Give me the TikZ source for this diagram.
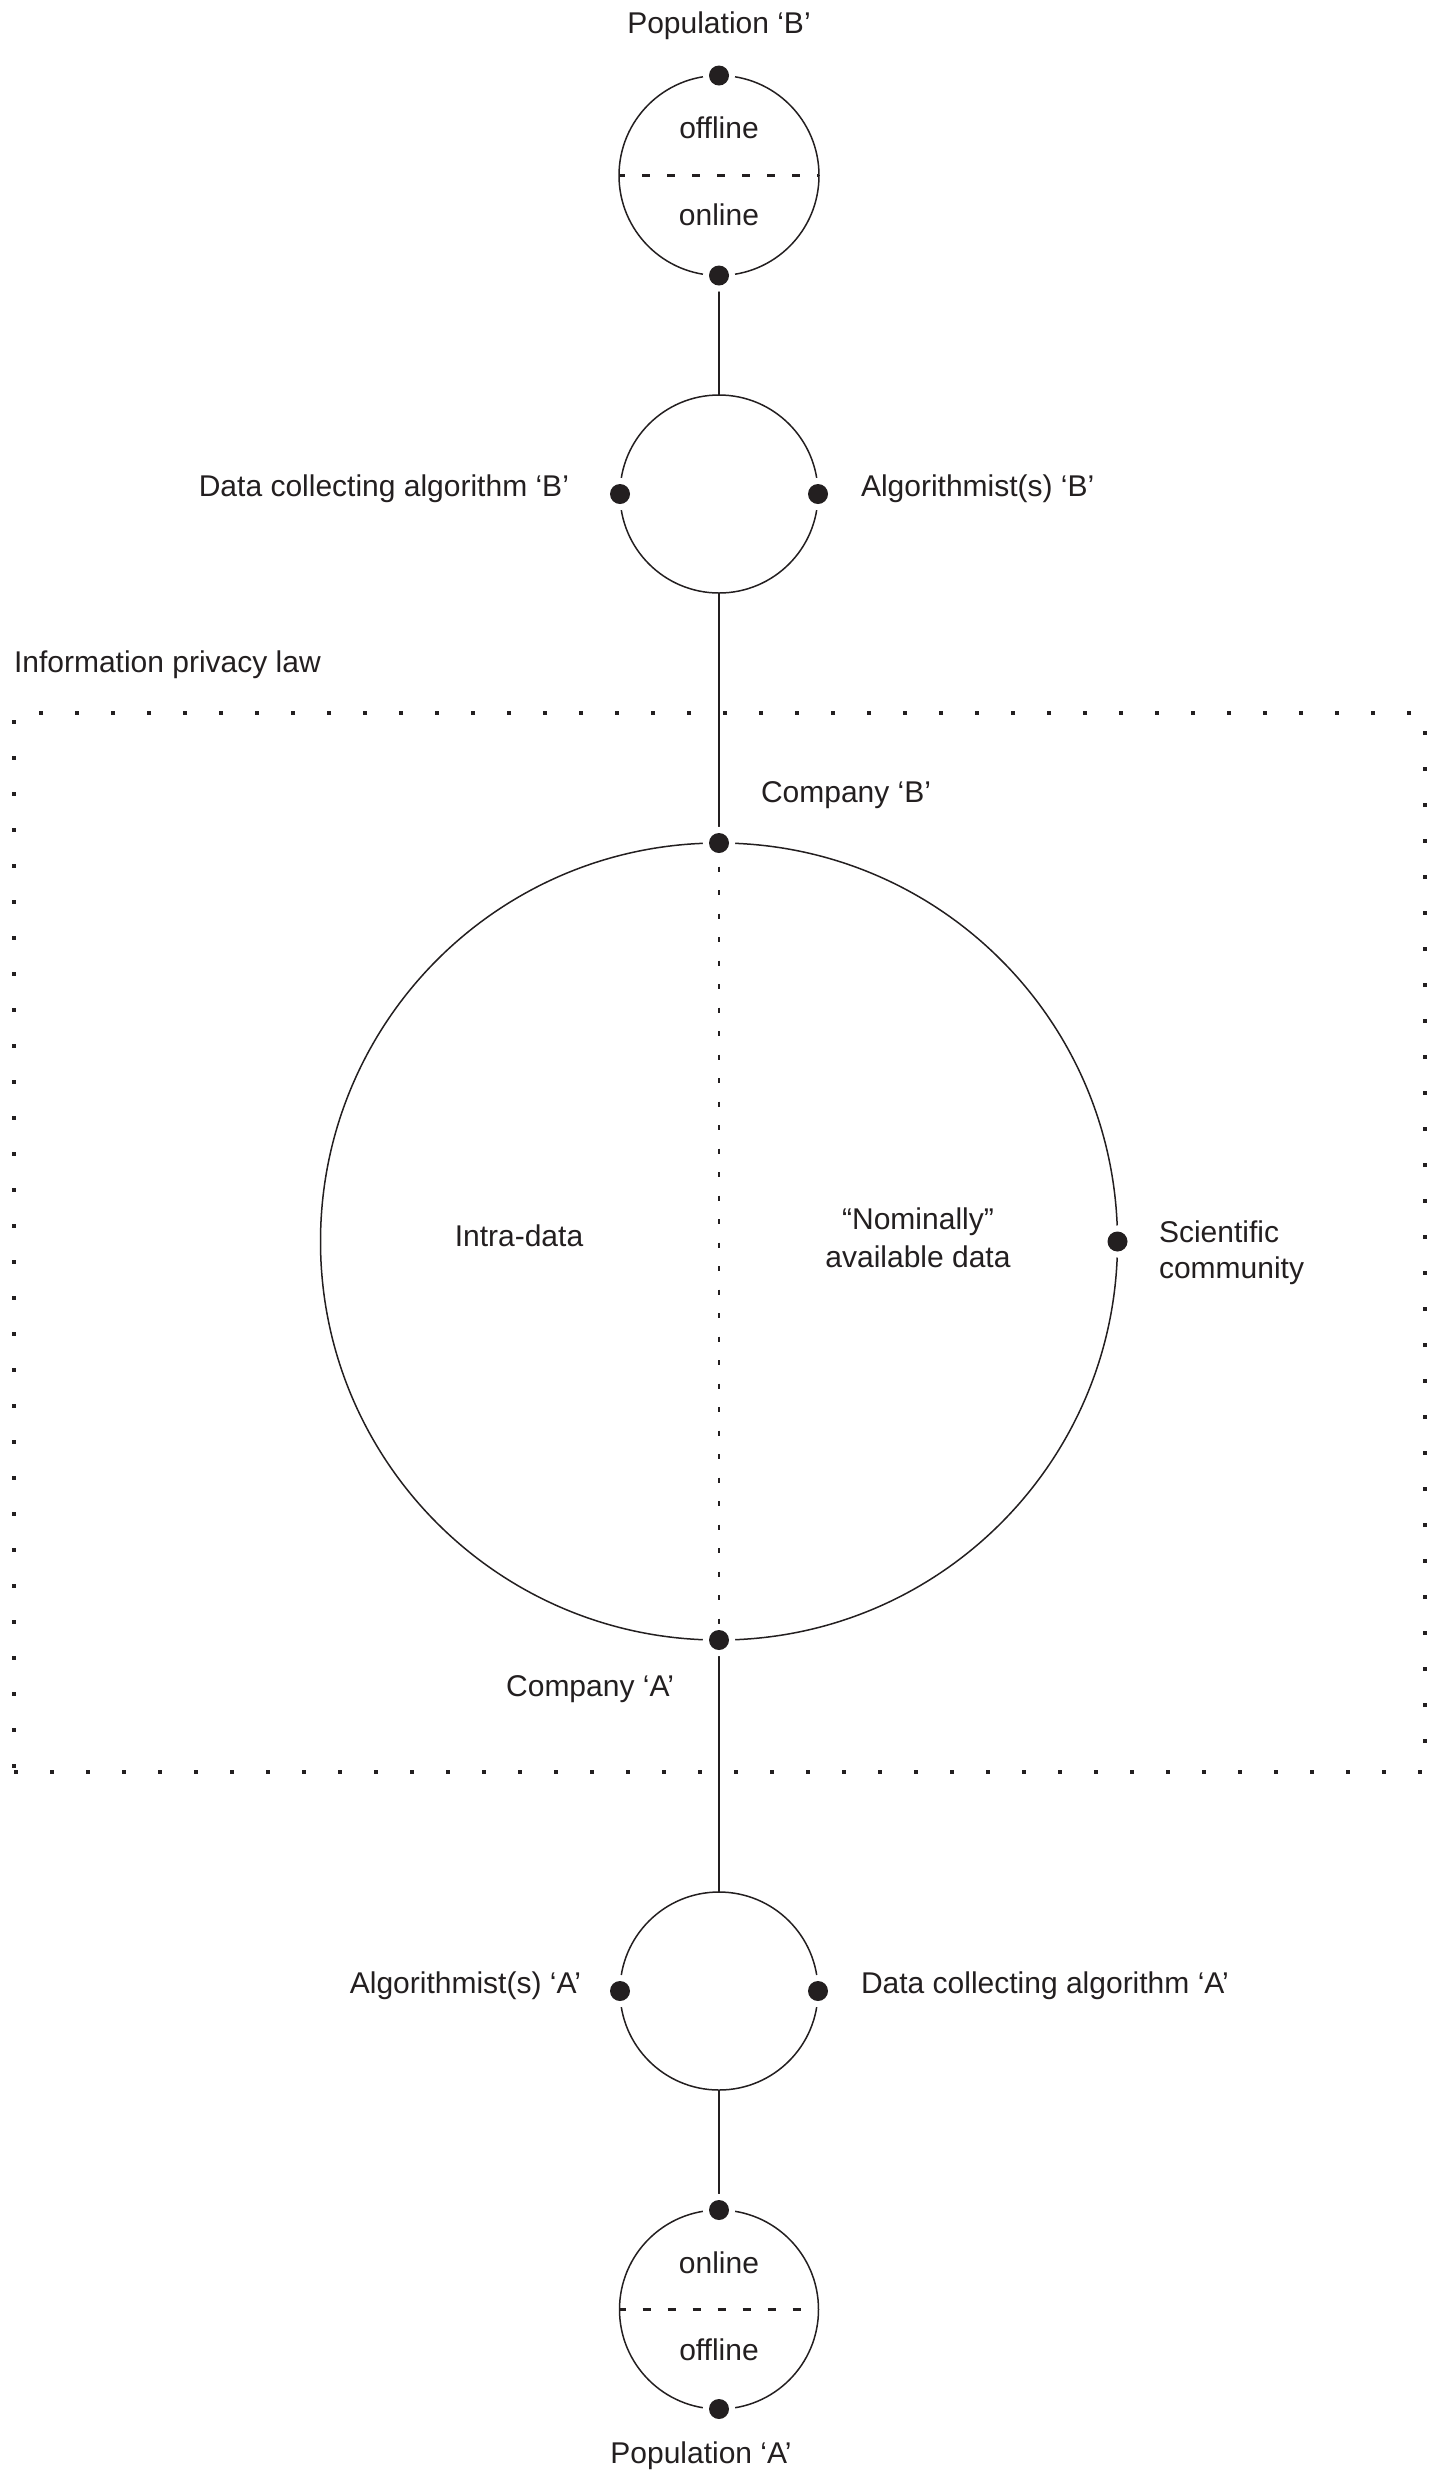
\documentclass[tikz,border=0pt]{standalone}
\usepackage{fontspec}
\setmainfont{Liberation Sans}
\usetikzlibrary{backgrounds}
\definecolor{ink}{RGB}{35,31,32}
\begin{document}
\begin{tikzpicture}[x=0.5pt,y=-0.5pt,
  every node/.style={font=\fontsize{15pt}{18.5pt}\selectfont, text=ink},
  ring/.style={circle, draw=ink, line width=0.75pt, inner sep=0pt, outer sep=0pt},
  dot/.style={circle, fill=ink, inner sep=0pt, outer sep=0pt, minimum size=10pt,
    preaction={draw=white, line width=6pt}},
  lbl/.style={inner sep=0pt, outer sep=0pt},
  conn/.style={draw=ink, line width=0.8pt},
  popdash/.style={draw=ink, line width=1.3pt, dash pattern=on 4pt off 8.5pt, dash phase=1pt},
  indot/.style={draw=ink, line width=1.3pt, dash pattern=on 2.5pt off 9.25pt},
  frame/.style={draw=ink, line width=2pt, dash pattern=on 2pt off 16pt, inner sep=0pt, outer sep=0pt}
]
\useasboundingbox (0,0) rectangle (1438,2481);

% frame of the law
\node[frame, minimum width=705.5pt, minimum height=529.5pt] (law) at (719.5,1242.5) {};
\node[lbl, anchor=base west] (lawlbl) at (14,672) {Information privacy law};

% circles
\node[ring, minimum size=100pt] (popB) at (719,175.5) {};
\node[ring, minimum size=99pt] (algB) at (719,494) {};
\node[ring, minimum size=398.5pt] (big) at (719,1241.5) {};
\node[ring, minimum size=99pt] (algA) at (719,1991) {};
\node[ring, minimum size=99.5pt] (popA) at (719,2309.5) {};

% connectors (behind)
\begin{pgfonlayer}{background}
\draw[popdash] (popB.west) -- (popB.east);
\draw[popdash] (popA.west) -- (popA.east);
\draw[conn] (popB.south) -- (algB.north);
\draw[conn] (algB.south) -- (big.north);
\draw[indot] (big.north) -- (big.south);
\draw[conn] (big.south) -- (algA.north);
\draw[conn] (algA.south) -- (popA.north);
\end{pgfonlayer}

% dots
\node[dot] (pbT) at (popB.north) {};
\node[dot] (pbB) at (popB.south) {};
\node[dot] (abL) at (algB.west) {};
\node[dot] (abR) at (algB.east) {};
\node[dot] (bigT) at (big.north) {};
\node[dot] (bigB) at (big.south) {};
\node[dot] (bigR) at (big.east) {};
\node[dot] (aaL) at (algA.west) {};
\node[dot] (aaR) at (algA.east) {};
\node[dot] (paT) at (popA.north) {};
\node[dot] (paB) at (popA.south) {};

% labels
\node[lbl, anchor=base] (tPopB) at (719,33) {Population ‘B’};
\node[lbl, anchor=base] (tOffB) at (719,138) {offline};
\node[lbl, anchor=base] (tOnB) at (719,225) {online};
\node[lbl, anchor=base east] (tDcaB) at (569,496) {Data collecting algorithm ‘B’};
\node[lbl, anchor=base west] (tAlgB) at (861,496) {Algorithmist(s) ‘B’};
\node[lbl, anchor=base west] (tCoB) at (761,802) {Company ‘B’};
\node[lbl, anchor=base] (tIntra) at (519,1246) {Intra-data};
\node[lbl, anchor=base] (tNom1) at (918,1229) {“Nominally”};
\node[lbl, anchor=base] (tNom2) at (918,1267) {available data};
\node[lbl, anchor=base west] (tSci1) at (1159,1242) {Scientific};
\node[lbl, anchor=base west] (tSci2) at (1159,1278) {community};
\node[lbl, anchor=base east] (tCoA) at (674,1696) {Company ‘A’};
\node[lbl, anchor=base east] (tAlgA) at (581,1993) {Algorithmist(s) ‘A’};
\node[lbl, anchor=base west] (tDcaA) at (861,1993) {Data collecting algorithm ‘A’};
\node[lbl, anchor=base] (tOnA) at (719,2273) {online};
\node[lbl, anchor=base] (tOffA) at (719,2360) {offline};
\node[lbl, anchor=base] (tPopA) at (701,2463) {Population ‘A’};
\end{tikzpicture}
\end{document}
